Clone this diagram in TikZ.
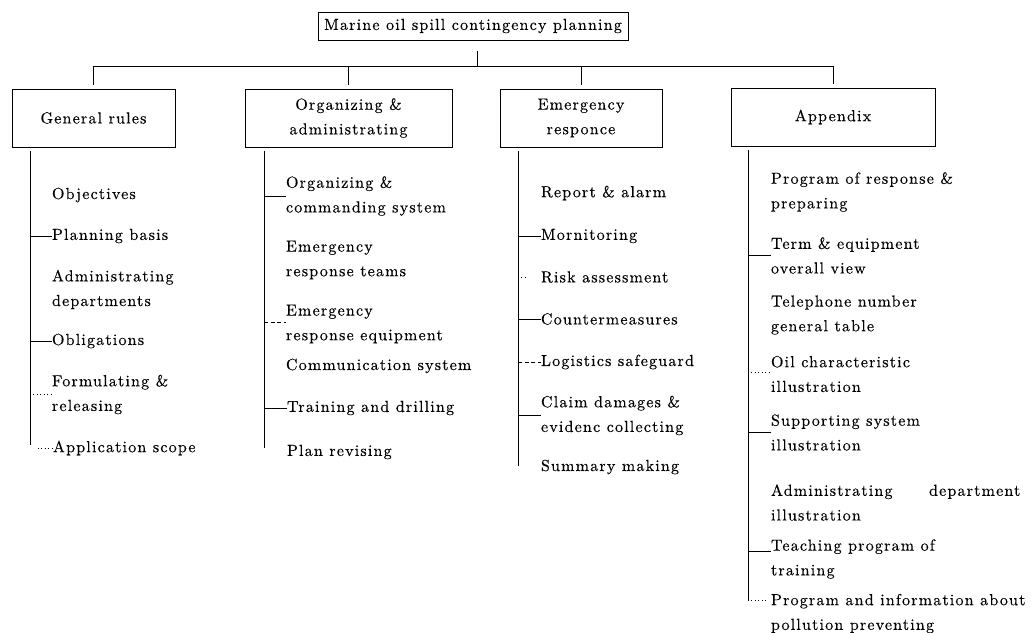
\documentclass[tikz,border=0pt]{standalone}
\usepackage{fontspec}
\setmainfont{lmroman10-regular.otf}[LetterSpace=7.5, FakeBold=0.3]
\begin{document}
\begin{tikzpicture}[x=0.75pt,y=-0.75pt,
  txt/.style={font=\fontsize{12}{18.5}\selectfont, inner sep=0pt, outer sep=0pt},
  item/.style={txt, anchor=west, align=left},
  boxnode/.style={txt, draw, line width=0.75pt, align=center, minimum height=43.5pt},
  wire/.style={line width=0.7pt},
  faint/.style={line width=0.6pt, dotted},
  dashwire/.style={line width=0.6pt, dash pattern=on 3pt off 2pt},
]
\useasboundingbox (0,0) rectangle (1031,632);

% top node
\node[txt, draw, line width=0.75pt, minimum width=232.5pt, minimum height=21pt] (top) at (473,26) {Marine oil spill contingency planning};

% second level boxes
\node[boxnode, minimum width=122.25pt] (gr) at (93.5,118) {General rules};
\node[boxnode, minimum width=155.25pt] (oa) at (348.5,118) {Organizing \&\\administrating};
\node[boxnode, minimum width=121.5pt] (er) at (581,118) {Emergency\\responce};
\node[boxnode, minimum width=153pt] (ap) at (833,117) {Appendix};

% bus
\coordinate (stem) at (477,66);
\draw[wire, shorten <=8pt] (stem |- top.south) -- (stem);
\draw[wire] (gr.north |- stem) -- (ap.north |- stem);
\foreach \b in {gr,oa,er,ap} \draw[wire, shorten >=3pt] (\b.north |- stem) -- (\b.north);

% spines
\coordinate (s1) at (30,445);
\coordinate (s2) at (264,448);
\coordinate (s3) at (518,466);
\coordinate (s4) at (748,600);
\draw[wire, shorten <=3pt] (s1 |- gr.south) -- (s1);
\draw[wire, shorten <=3pt] (s2 |- oa.south) -- (s2);
\draw[wire, shorten <=3pt] (s3 |- er.south) -- (s3);
\draw[wire, shorten <=3pt] (s4 |- ap.south) -- (s4);

% General rules items
\node[item] (g1) at (52,195) {Objectives};
\node[item] (g2) at (52,236) {Planning basis};
\node[item] (g3) at (52,289.5) {Administrating\\departments};
\node[item] (g4) at (52,341) {Obligations};
\node[item] (g5) at (52,394.5) {Formulating \&\\releasing};
\node[item] (g6) at (53,448) {Application scope};
\draw[wire] (s1 |- g2.west) -- (g2.west);
\draw[wire] (s1 |- g4.west) -- (g4.west);
\draw[faint] (s1 |- g5.west) -- (g5.west);
\draw[faint] ([xshift=6pt]s1 |- g6.west) -- (g6.west);

% Organizing items
\node[item] (o1) at (286,196) {Organizing \&\\commanding system};
\node[item] (o2) at (286,260) {Emergency\\response teams};
\node[item] (o3) at (286,324) {Emergency\\response equipment};
\node[item] (o4) at (286,366) {Communication system};
\node[item] (o5) at (287,408) {Training and drilling};
\node[item] (o6) at (287,452) {Plan revising};
\draw[wire] (s2 |- o1.west) -- (o1.west);
\draw[dashwire] ([yshift=1.5pt]s2 |- o3.west) -- ([yshift=1.5pt]o3.west);
\draw[wire] (s2 |- o5.west) -- (o5.west);

% Emergency items
\node[item] (e1) at (541,193) {Report \& alarm};
\node[item] (e2) at (541,236) {Mornitoring};
\node[item] (e3) at (541,277) {Risk assessment};
\node[item] (e4) at (541,319) {Countermeasures};
\node[item] (e5) at (541,362) {Logistics safeguard};
\node[item] (e6) at (541,415.5) {Claim damages \&\\evidenc collecting};
\node[item] (e7) at (541,467) {Summary making};
\draw[wire] (s3 |- e2.west) -- (e2.west);
\draw[faint] (s3 |- e3.west) -- ([xshift=-12pt]e3.west);
\draw[wire] (s3 |- e4.west) -- (e4.west);
\draw[dashwire] (s3 |- e5.west) -- (e5.west);
\draw[wire] (s3 |- e6.west) -- (e6.west);

% Appendix items
\node[item] (a1) at (771,192) {Program of response \&\\preparing};
\node[item] (a2) at (771,255.5) {Term \& equipment\\overall view};
\node[item] (a3) at (771,315) {Telephone number\\general table};
\node[item] (a4) at (771,374) {Oil characteristic\\illustration};
\node[item] (a5) at (771,432.5) {Supporting system\\illustration};
\node[item] (a6) at (771,502.5) {\makebox[187pt][s]{Administrating department}\\illustration};
\node[item] (a7) at (771,559) {Teaching program of\\training};
\node[item] (a8) at (771,613.5) {Program and information about\\pollution preventing};
\draw[wire] (s4 |- a2.west) -- (a2.west);
\draw[faint] ([yshift=1.5pt]s4 |- a4.west) -- ([yshift=1.5pt]a4.west);
\draw[wire] (s4 |- a5.west) -- (a5.west);
\draw[wire] ([yshift=6pt]s4 |- a7.west) -- ([yshift=6pt]a7.west);
\draw[faint] (s4) -- ([xshift=-4pt]a8.west |- s4);
\end{tikzpicture}
\end{document}
